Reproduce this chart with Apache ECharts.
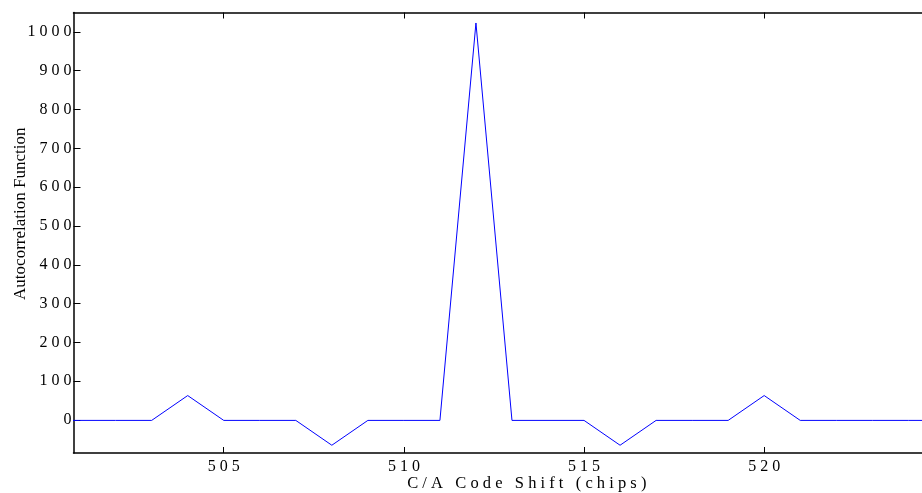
<!DOCTYPE html>
<html>
<head>
<meta charset="utf-8">
<script src="https://cdn.jsdelivr.net/npm/echarts@6/dist/echarts.min.js"></script>
<style>
  html, body { margin: 0; padding: 0; background: #fff; }
  #chart { width: 922px; height: 493px; }
</style>
</head>
<body>
<div id="chart"></div>
<script>
// code shift (chips) and autocorrelation value
const shifts = [500, 501, 502, 503, 504, 505, 506, 507, 508, 509, 510, 511, 512,
  513, 514, 515, 516, 517, 518, 519, 520, 521, 522, 523, 524, 525];
const values = [-1, -1, -1, -1, 63, -1, -1, -1, -65, -1, -1, -1, 1023,
  -1, -1, -1, -65, -1, -1, -1, 63, -1, -1, -1, -1, -1];
const xTicks = [505, 510, 515, 520];
const yTicks = [0, 100, 200, 300, 400, 500, 600, 700, 800, 900, 1000];

const spaced = (s) => String(s).split("").join(" ");

document.addEventListener("DOMContentLoaded", function () {
  const myChart = echarts.init(document.getElementById("chart"));
  const font = "Liberation Serif";
  const axisLine = { show: true, onZero: false, lineStyle: { color: "#000", width: 1.5 } };

  const option = {
    animation: false,
    grid: { left: 73.5, top: 12.5, right: 0, bottom: 40, outerBoundsMode: "none", containLabel: false },
    xAxis: [
      {
        type: "value",
        min: 500.83,
        max: 524.38,
        name: spaced("C/A Code Shift (chips)"),
        nameLocation: "middle",
        nameGap: 22,
        nameMoveOverlap: false,
        nameTextStyle: { fontFamily: font, fontSize: 16.5, color: "#000", padding: [0, 0, 0, 58] },
        axisLine: axisLine,
        axisTick: { inside: true, length: 6, customValues: xTicks, lineStyle: { color: "#000" } },
        axisLabel: {
          customValues: xTicks,
          margin: 6,
          fontFamily: font,
          fontSize: 16,
          color: "#000",
          formatter: spaced,
        },
        splitLine: { show: false },
      },
      {
        type: "value",
        position: "top",
        min: 500.83,
        max: 524.38,
        axisLine: axisLine,
        axisTick: { inside: true, length: 6, customValues: xTicks, lineStyle: { color: "#000" } },
        axisLabel: { show: false },
        splitLine: { show: false },
      },
    ],
    yAxis: {
      type: "value",
      min: -85,
      max: 1050,
      name: "Autocorrelation Function",
      nameLocation: "middle",
      nameGap: 44,
      nameMoveOverlap: false,
      nameTextStyle: { fontFamily: font, fontSize: 17, color: "#000", padding: [0, 0, 0, 38] },
      axisLine: axisLine,
      axisTick: { inside: true, length: 7, customValues: yTicks, lineStyle: { color: "#000" } },
      axisLabel: {
        customValues: yTicks,
        margin: 2,
        fontFamily: font,
        fontSize: 16,
        color: "#000",
        formatter: spaced,
      },
      splitLine: { show: false },
    },
    series: [
      {
        type: "line",
        data: shifts.map((s, i) => [s, values[i]]),
        showSymbol: false,
        clip: true,
        lineStyle: { color: "#0000ff", width: 1 },
        itemStyle: { color: "#0000ff" },
      },
    ],
  };

  myChart.setOption(option);
});
</script>
</body>
</html>
